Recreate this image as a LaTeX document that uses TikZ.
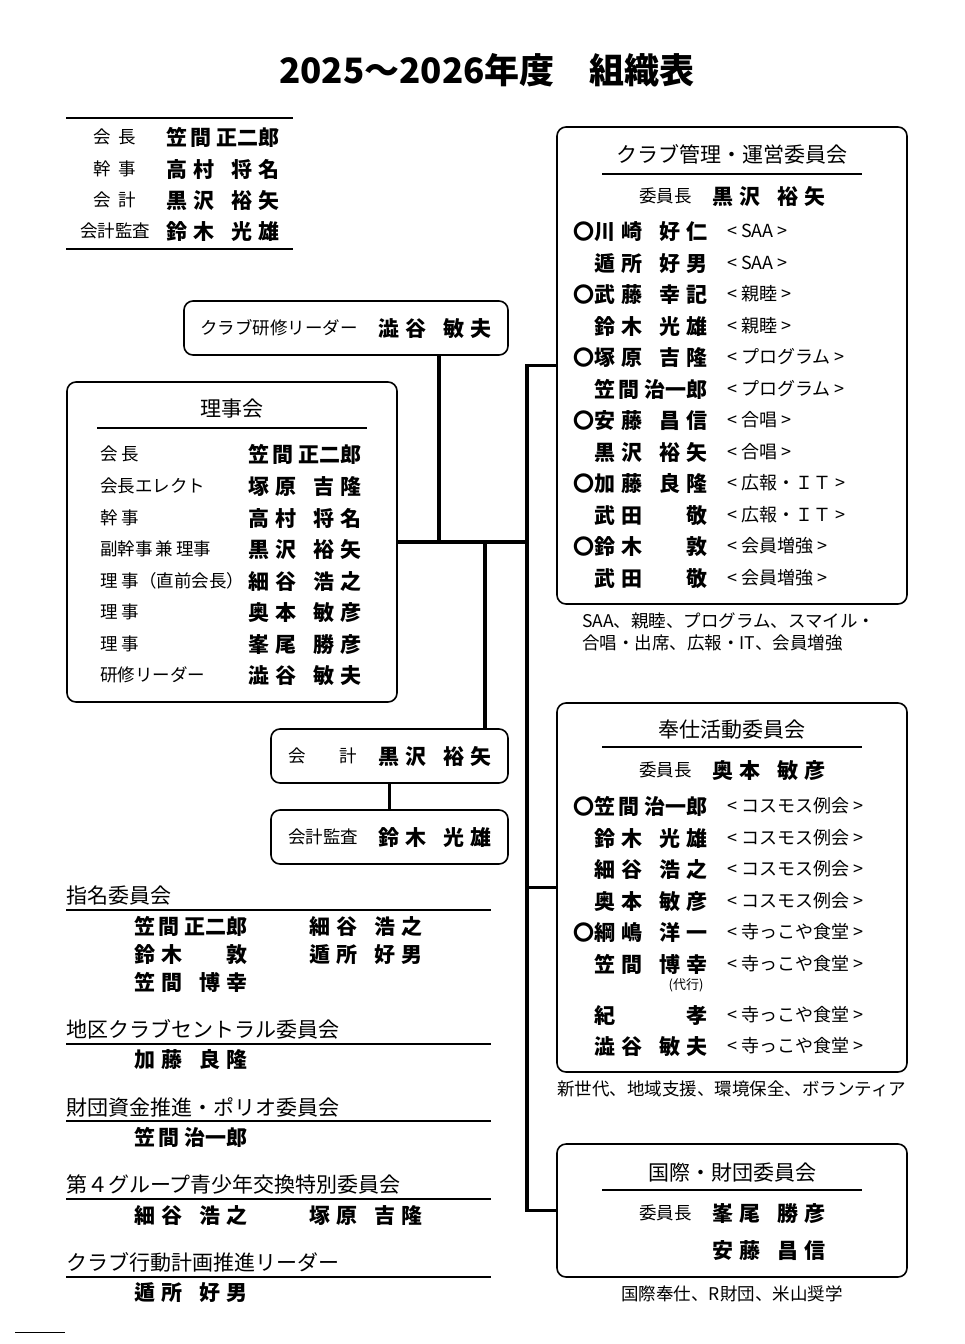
\documentclass[tikz,border=0pt]{standalone}
\usepackage{fontspec}
\setmainfont{Noto Sans CJK JP}
\usetikzlibrary{positioning}
\newcommand{\nmf}[4]{\hbox to 113pt{#1\kern6pt#2\hfill#3\kern6pt#4}}
\newcommand{\nmh}[3]{\hbox to 113pt{#1\kern3pt#2\hfill#3}}
\tikzset{
	box/.style={draw, rounded corners=9pt, line width=1.6pt},
	conn/.style={line width=3.2pt, line cap=rect},
	rule/.style={line width=2.4pt},
	ttl/.style={font=\fontsize{21}{21}\selectfont, inner sep=0pt, anchor=base, yshift=-8pt},
	hdr/.style={font=\fontsize{21}{21}\selectfont, inner sep=0pt, anchor=base west, yshift=-8pt},
	lbl/.style={font=\fontsize{17.5}{17.5}\selectfont, inner sep=0pt, anchor=base west, yshift=-6.6pt},
	tag/.style={font=\fontsize{18}{18}\selectfont, inner sep=0pt, anchor=base west, yshift=-6.8pt},
	nm/.style={font=\bfseries\fontsize{21}{21}\selectfont, inner sep=0pt, anchor=base west, yshift=-8pt},
	mk/.style={nm, anchor=base east}
}
\newcommand{\tg}[1]{<\kern4pt #1\kern4pt >}
\begin{document}
\begin{tikzpicture}[x=1pt, y=-1pt]
	\useasboundingbox (0,0) rectangle (964,1344);
	\node[font=\bfseries\fontsize{35}{35}\selectfont, inner sep=0pt, anchor=base, yshift=-13pt] (title) at (487,70) {2025～2026年度　組織表};

	% officers
	\draw[rule] (66,118) -- (293,118);
	\draw[rule] (66,249) -- (293,249);
	\node[lbl, anchor=base] (o1l) at (115,137) {\hbox to 43pt{会\hfill 長}};
	\node[lbl, anchor=base] (o2l) at (115,169) {\hbox to 43pt{幹\hfill 事}};
	\node[lbl, anchor=base] (o3l) at (115,200) {\hbox to 43pt{会\hfill 計}};
	\node[lbl, anchor=base] (o4l) at (115,231) {会計監査};
	\node[nm] (o1n) at (166,137) {\nmh{笠}{間}{正二郎}};
	\node[nm] (o2n) at (166,169) {\nmf{高}{村}{将}{名}};
	\node[nm] (o3n) at (166,200) {\nmf{黒}{沢}{裕}{矢}};
	\node[nm] (o4n) at (166,231) {\nmf{鈴}{木}{光}{雄}};

	% boxes
	\node[box, minimum width=324pt, minimum height=54pt] (kenshu) at (346,328) {};
	\node[box, minimum width=330pt, minimum height=320pt] (riji) at (232,542) {};
	\node[box, minimum width=237pt, minimum height=54pt] (kaikei) at (389.5,756) {};
	\node[box, minimum width=237pt, minimum height=54pt] (kansa) at (389.5,837) {};
	\node[box, minimum width=350pt, minimum height=477pt] (kanri) at (732,365.5) {};
	\node[box, minimum width=350pt, minimum height=369pt] (hoshi) at (732,887.5) {};
	\node[box, minimum width=350pt, minimum height=133pt] (kokusai) at (732,1210.5) {};

	% connectors
	\coordinate (ja) at (439,542);
	\coordinate (jb) at (485,542);
	\coordinate (tk) at (527,542);
	\draw[conn] (kenshu.south -| ja) -- (ja);
	\draw[conn] (riji.east) -- (tk);
	\draw[conn] (jb) -- (kaikei.north -| jb);
	\draw[conn] (kaikei.south) -- (kansa.north);
	\draw[conn] (kanri.west) -- (kanri.west -| tk) -- (kokusai.west -| tk) -- (kokusai.west);
	\draw[conn] (hoshi.west -| tk) -- (hoshi.west);

	% kenshu / kaikei / kansa
	\node[lbl] (kenshuL) at (200,328) {クラブ研修リーダー};
	\node[nm] (kenshuN) at (378,328) {\nmf{澁}{谷}{敏}{夫}};
	\node[lbl] (kaikeiL) at (288,756) {\hbox to 69pt{会\hfill 計}};
	\node[nm] (kaikeiN) at (378,756) {\nmf{黒}{沢}{裕}{矢}};
	\node[lbl] (kansaL) at (288,837) {会計監査};
	\node[nm] (kansaN) at (378,837) {\nmf{鈴}{木}{光}{雄}};

	% riji
	\node[ttl] (rijiT) at (232,408) {理事会};
	\draw[line width=2pt] (97,428) -- (367,428);
	\node[lbl] (r1l) at (100,454) {会\kern4pt 長};
	\node[lbl] (r2l) at (100,486) {会長エレクト};
	\node[lbl] (r3l) at (100,518) {幹\kern4pt 事};
	\node[lbl] (r4l) at (100,549) {副幹事\kern3pt 兼\kern3pt 理事};
	\node[lbl] (r5l) at (100,581) {理\kern4pt 事（直前会長）};
	\node[lbl] (r6l) at (100,612) {理\kern4pt 事};
	\node[lbl] (r7l) at (100,644) {理\kern4pt 事};
	\node[lbl] (r8l) at (100,675) {研修リーダー};
	\node[nm] (r1n) at (248,454) {\nmh{笠}{間}{正二郎}};
	\node[nm] (r2n) at (248,486) {\nmf{塚}{原}{吉}{隆}};
	\node[nm] (r3n) at (248,518) {\nmf{高}{村}{将}{名}};
	\node[nm] (r4n) at (248,549) {\nmf{黒}{沢}{裕}{矢}};
	\node[nm] (r5n) at (248,581) {\nmf{細}{谷}{浩}{之}};
	\node[nm] (r6n) at (248,612) {\nmf{奥}{本}{敏}{彦}};
	\node[nm] (r7n) at (248,644) {\nmf{峯}{尾}{勝}{彦}};
	\node[nm] (r8n) at (248,675) {\nmf{澁}{谷}{敏}{夫}};

	% kanri
	\node[ttl] (kanriT) at (732,154) {クラブ管理・運営委員会};
	\draw[line width=2pt] (602,174) -- (862,174);
	\node[lbl] (kanriC) at (639,196) {委員長};
	\node[nm] (kanriN) at (712,196) {\nmf{黒}{沢}{裕}{矢}};
	\node[mk] (k1m) at (595,231) {〇};
	\node[nm] (k1n) at (594,231) {\nmf{川}{崎}{好}{仁}};
	\node[tag] (k1t) at (727,231) {\tg{SAA}};
	\node[nm] (k2n) at (594,263) {\nmf{遁}{所}{好}{男}};
	\node[tag] (k2t) at (727,263) {\tg{SAA}};
	\node[mk] (k3m) at (595,294) {〇};
	\node[nm] (k3n) at (594,294) {\nmf{武}{藤}{幸}{記}};
	\node[tag] (k3t) at (727,294) {\tg{親睦}};
	\node[nm] (k4n) at (594,326) {\nmf{鈴}{木}{光}{雄}};
	\node[tag] (k4t) at (727,326) {\tg{親睦}};
	\node[mk] (k5m) at (595,357) {〇};
	\node[nm] (k5n) at (594,357) {\nmf{塚}{原}{吉}{隆}};
	\node[tag] (k5t) at (727,357) {\tg{プログラム}};
	\node[nm] (k6n) at (594,389) {\nmh{笠}{間}{治一郎}};
	\node[tag] (k6t) at (727,389) {\tg{プログラム}};
	\node[mk] (k7m) at (595,420) {〇};
	\node[nm] (k7n) at (594,420) {\nmf{安}{藤}{昌}{信}};
	\node[tag] (k7t) at (727,420) {\tg{合唱}};
	\node[nm] (k8n) at (594,452) {\nmf{黒}{沢}{裕}{矢}};
	\node[tag] (k8t) at (727,452) {\tg{合唱}};
	\node[mk] (k9m) at (595,483) {〇};
	\node[nm] (k9n) at (594,483) {\nmf{加}{藤}{良}{隆}};
	\node[tag] (k9t) at (727,483) {\tg{広報・ＩＴ}};
	\node[nm] (k10n) at (594,515) {\nmf{武}{田}{}{敬}};
	\node[tag] (k10t) at (727,515) {\tg{広報・ＩＴ}};
	\node[mk] (k11m) at (595,546) {〇};
	\node[nm] (k11n) at (594,546) {\nmf{鈴}{木}{}{敦}};
	\node[tag] (k11t) at (727,546) {\tg{会員増強}};
	\node[nm] (k12n) at (594,578) {\nmf{武}{田}{}{敬}};
	\node[tag] (k12t) at (727,578) {\tg{会員増強}};
	\node[lbl] (kanriS1) at (582,621) {SAA、親睦、プログラム、スマイル・};
	\node[lbl] (kanriS2) at (582,643) {合唱・出席、広報・IT、会員増強};

	% hoshi
	\node[ttl] (hoshiT) at (732,729) {奉仕活動委員会};
	\draw[line width=2pt] (602,747) -- (862,747);
	\node[lbl] (hoshiC) at (639,770) {委員長};
	\node[nm] (hoshiN) at (712,770) {\nmf{奥}{本}{敏}{彦}};
	\node[mk] (h1m) at (595,806) {〇};
	\node[nm] (h1n) at (594,806) {\nmh{笠}{間}{治一郎}};
	\node[tag] (h1t) at (727,806) {\tg{コスモス例会}};
	\node[nm] (h2n) at (594,838) {\nmf{鈴}{木}{光}{雄}};
	\node[tag] (h2t) at (727,838) {\tg{コスモス例会}};
	\node[nm] (h3n) at (594,869) {\nmf{細}{谷}{浩}{之}};
	\node[tag] (h3t) at (727,869) {\tg{コスモス例会}};
	\node[nm] (h4n) at (594,901) {\nmf{奥}{本}{敏}{彦}};
	\node[tag] (h4t) at (727,901) {\tg{コスモス例会}};
	\node[mk] (h5m) at (595,932) {〇};
	\node[nm] (h5n) at (594,932) {\nmf{綱}{嶋}{洋}{一}};
	\node[tag] (h5t) at (727,932) {\tg{寺っこや食堂}};
	\node[nm] (h6n) at (594,964) {\nmf{笠}{間}{博}{幸}};
	\node[tag] (h6t) at (727,964) {\tg{寺っこや食堂}};
	\node[font=\fontsize{13}{13}\selectfont, inner sep=0pt] (daiko) at (686,985) {(代行)};
	\node[nm] (h7n) at (594,1015) {\nmf{紀}{}{}{孝}};
	\node[tag] (h7t) at (727,1015) {\tg{寺っこや食堂}};
	\node[nm] (h8n) at (594,1046) {\nmf{澁}{谷}{敏}{夫}};
	\node[tag] (h8t) at (727,1046) {\tg{寺っこや食堂}};
	\node[lbl] (hoshiS) at (557,1089) {新世代、地域支援、環境保全、ボランティア};

	% kokusai
	\node[ttl] (kokusaiT) at (732,1172) {国際・財団委員会};
	\draw[line width=2pt] (602,1190) -- (862,1190);
	\node[lbl] (kokusaiC) at (639,1213) {委員長};
	\node[nm] (kokusaiN) at (712,1213) {\nmf{峯}{尾}{勝}{彦}};
	\node[nm] (kokusaiN2) at (712,1250) {\nmf{安}{藤}{昌}{信}};
	\node[lbl, anchor=base] (kokusaiS) at (732,1294) {国際奉仕、R財団、米山奨学};

	% other committees
	\node[hdr] (shimei) at (66,895) {指名委員会};
	\draw[rule] (66,910) -- (491,910);
	\node[nm] (s1) at (134,926) {\nmh{笠}{間}{正二郎}};
	\node[nm] (s2) at (309,926) {\nmf{細}{谷}{浩}{之}};
	\node[nm] (s3) at (134,954) {\nmf{鈴}{木}{}{敦}};
	\node[nm] (s4) at (309,954) {\nmf{遁}{所}{好}{男}};
	\node[nm] (s5) at (134,982) {\nmf{笠}{間}{博}{幸}};
	\node[hdr] (chiku) at (66,1029) {地区クラブセントラル委員会};
	\draw[rule] (66,1044) -- (491,1044);
	\node[nm] (c1) at (134,1059) {\nmf{加}{藤}{良}{隆}};
	\node[hdr] (zaidan) at (66,1107) {財団資金推進・ポリオ委員会};
	\draw[rule] (66,1121) -- (491,1121);
	\node[nm] (z1) at (134,1137) {\nmh{笠}{間}{治一郎}};
	\node[hdr] (seisho) at (66,1184) {第４グループ青少年交換特別委員会};
	\draw[rule] (66,1199) -- (491,1199);
	\node[nm] (y1) at (134,1215) {\nmf{細}{谷}{浩}{之}};
	\node[nm] (y2) at (309,1215) {\nmf{塚}{原}{吉}{隆}};
	\node[hdr] (kodo) at (66,1262) {クラブ行動計画推進リーダー};
	\draw[rule] (66,1277) -- (491,1277);
	\node[nm] (d1) at (134,1292) {\nmf{遁}{所}{好}{男}};
	\draw[line width=1pt] (15,1332) -- (65,1332);
\end{tikzpicture}
\end{document}
